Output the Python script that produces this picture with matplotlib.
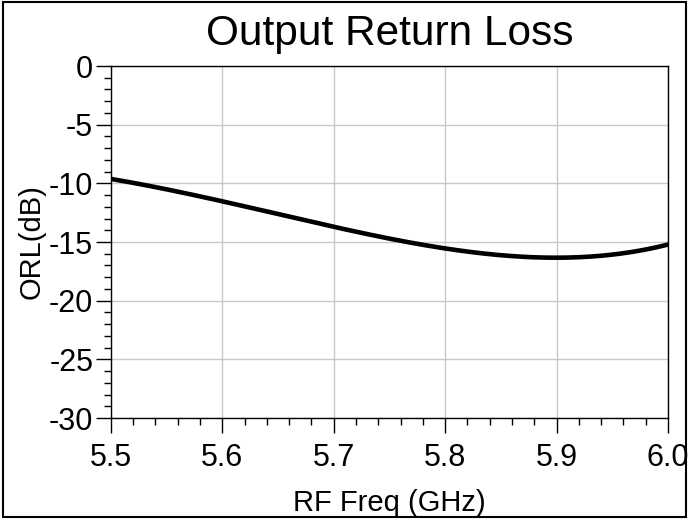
import numpy as np
import matplotlib.pyplot as plt
from matplotlib.patches import Rectangle
from matplotlib.ticker import MultipleLocator

plt.rcParams['font.family'] = ['Liberation Sans', 'DejaVu Sans']

freq = [5.5, 5.55, 5.6, 5.65, 5.7, 5.75, 5.8, 5.85, 5.9, 5.95, 6.0]
orl = [-9.6, -10.55, -11.55, -12.6, -13.65, -14.7, -15.6, -16.15, -16.35, -16.0, -15.25]

# smooth the read-off points for drawing
xs = np.linspace(freq[0], freq[-1], 300)
coef = np.polyfit(freq, orl, 4)
ys = np.polyval(coef, xs)

fig = plt.figure(figsize=(6.89, 5.19), dpi=100)
ax = fig.add_axes([0.161, 0.1946, 0.8085, 0.6782])

ax.plot(xs, ys, color='black', linewidth=3.3)

ax.set_xlim(5.5, 6.0)
ax.set_ylim(-30, 0)
ax.xaxis.set_major_locator(MultipleLocator(0.1))
ax.xaxis.set_minor_locator(MultipleLocator(0.02))
ax.yaxis.set_major_locator(MultipleLocator(5))
ax.yaxis.set_minor_locator(MultipleLocator(1))
ax.xaxis.set_major_formatter(plt.FuncFormatter(lambda v, p: '%.1f' % v))
ax.yaxis.set_major_formatter(plt.FuncFormatter(lambda v, p: '%d' % round(v)))

ax.grid(True, which='major', color='#c8c8c8', linewidth=1)
ax.set_axisbelow(True)
ax.tick_params(which='major', direction='out', length=10.8, width=1, labelsize=22, pad=2)
ax.tick_params(axis='x', which='major', pad=7)
ax.tick_params(which='minor', direction='out', length=5, width=1)
for s in ax.spines.values():
    s.set_linewidth(1)
    s.set_color('black')

ax.set_title('Output Return Loss', fontsize=30.5, pad=15)
ax.set_xlabel('RF Freq (GHz)', fontsize=21, labelpad=12)
ax.set_ylabel('ORL(dB)', fontsize=21, labelpad=2)

fig.patches.append(Rectangle((0.004, 0.004), 0.992, 0.992, transform=fig.transFigure,
                             fill=False, edgecolor='black', linewidth=1.5))

fig.savefig('out.png', dpi=100)
